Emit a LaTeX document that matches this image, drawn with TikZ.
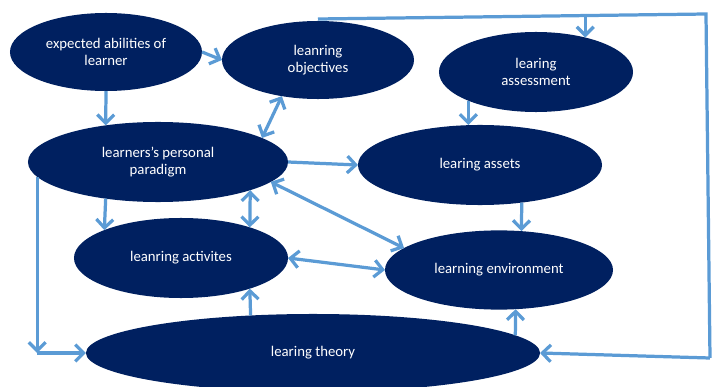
\documentclass[tikz,border=0pt]{standalone}
\usepackage{fontspec}
\setmainfont{Carlito}
\usetikzlibrary{shapes.geometric, arrows.meta}
\definecolor{navyfill}{HTML}{002060}
\definecolor{arblue}{HTML}{5B9BD5}

\begin{document}
\begin{tikzpicture}[x=0.025cm, y=-0.025cm, >={Straight Barb[length=6pt,width=12pt]},
        b/.style={ellipse, fill=navyfill, text=white, font=\fontsize{10.5}{12.5}\selectfont, inner sep=0pt, outer sep=0pt, align=center},
        ln/.style={draw=arblue, line width=2.3pt}]
      \useasboundingbox (0,0) rectangle (712,387);
      \node[b, minimum width=4.8cm, minimum height=1.95cm] (e) at (106,52) {expected abilities of\\learner};
      \node[b, minimum width=4.8cm, minimum height=1.95cm] (o) at (318,60) {leanring\\objectives};
      \node[b, minimum width=4.85cm, minimum height=2cm] (a) at (536,72) {learing\\assessment};
      \node[b, minimum width=6.5cm, minimum height=2cm] (p) at (158,162) {learners’s personal\\paradigm};
      \node[b, minimum width=6.1cm, minimum height=2cm] (s) at (480,165) {learing assets};
      \node[b, minimum width=5.35cm, minimum height=2cm] (v) at (181,258) {leanring activites};
      \node[b, minimum width=5.7cm, minimum height=1.98cm] (n) at (499,270) {learning environment};
      \node[b, minimum width=11.35cm, minimum height=1.95cm] (t) at (313,353) {learing theory};
      \coordinate (c0) at (318,19);
      \coordinate (c1) at (706,14);
      \coordinate (c2) at (710,358);
      \coordinate (c3) at (p.187 |- t.west);
      \draw[->,ln] (e.east)--(o.west);
      \draw[->,ln] (e.south)--(p.145);
      \draw[<->,ln] (o.225)--(p.13);
      \draw[->,ln] (p.east)--(s.west);
      \draw[->,ln] (a.203)--(a.203 |- s.north);
      \draw[->,ln] (s.318)--(n.60);
      \draw[->,ln] (p.215)--(v.160);
      \draw[<->,ln] (p.343)--(v.24);
      \draw[<->,ln] (p.350)--(n.167);
      \draw[<->,ln] (v.east)--(n.west);
      \draw[->,ln] (t.149)--(v.336);
      \draw[->,ln] (t.5)--(n.293);
      \draw[->,ln] (p.187)--(c3);
      \draw[->,ln] (c3)--(t.west);
      \draw[ln] (c0)--(c1)--(c2);
      \draw[->,ln] (c2)--(t.east);
      \draw[->,ln] (a.35 |- c1)--(a.35);
    \end{tikzpicture}
\end{document}
